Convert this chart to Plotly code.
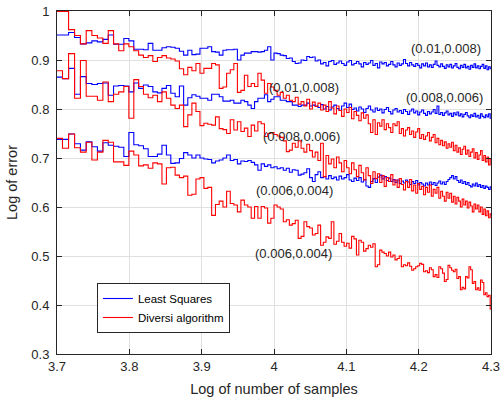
import numpy as np
import plotly.graph_objects as go

# number of samples (x axis is log10 of these)
samples = list(range(5000, 20001, 100))

# Least Squares
ls_a = [
0.951, 0.951, 0.956, 0.946, 0.933, 0.935, 0.939, 0.937, 0.942, 0.951,
0.932, 0.932, 0.944, 0.939, 0.922, 0.922, 0.921, 0.934, 0.920, 0.920,
0.925, 0.927, 0.926, 0.924, 0.918, 0.910, 0.920, 0.911, 0.912, 0.924,
0.924, 0.927, 0.917, 0.916, 0.910, 0.920, 0.921, 0.921, 0.922, 0.900,
0.910, 0.914, 0.914, 0.917, 0.917, 0.916, 0.917, 0.920, 0.927, 0.900,
0.914, 0.913, 0.910, 0.909, 0.903, 0.904, 0.897, 0.893, 0.894, 0.900,
0.899, 0.907, 0.905, 0.906, 0.898, 0.900, 0.892, 0.895, 0.888, 0.897,
0.899, 0.891, 0.894, 0.898, 0.893, 0.889, 0.896, 0.899, 0.890, 0.893,
0.897, 0.892, 0.886, 0.895, 0.891, 0.894, 0.899, 0.889, 0.893, 0.884,
0.896, 0.892, 0.895, 0.888, 0.891, 0.897, 0.890, 0.886, 0.894, 0.889,
0.892, 0.901, 0.893, 0.888, 0.895, 0.890, 0.887, 0.893, 0.889, 0.884,
0.892, 0.888, 0.894, 0.886, 0.890, 0.885, 0.891, 0.898, 0.889, 0.886,
0.892, 0.887, 0.883, 0.890, 0.886, 0.891, 0.884, 0.888, 0.893, 0.885,
0.882, 0.889, 0.885, 0.891, 0.884, 0.887, 0.881, 0.889, 0.885, 0.892,
0.884, 0.888, 0.882, 0.887, 0.891, 0.883, 0.888, 0.880, 0.886, 0.882,
0.884]
ls_b = [
0.865, 0.862, 0.883, 0.830, 0.866, 0.852, 0.850, 0.852, 0.853, 0.828,
0.847, 0.848, 0.847, 0.835, 0.853, 0.842, 0.849, 0.846, 0.835, 0.833,
0.842, 0.848, 0.832, 0.825, 0.847, 0.808, 0.823, 0.829, 0.826, 0.822,
0.822, 0.818, 0.830, 0.830, 0.825, 0.816, 0.816, 0.818, 0.812, 0.812,
0.818, 0.815, 0.808, 0.801, 0.815, 0.822, 0.822, 0.829, 0.815, 0.820,
0.825, 0.825, 0.818, 0.818, 0.815, 0.815, 0.808, 0.808, 0.805, 0.808,
0.808, 0.812, 0.806, 0.808, 0.806, 0.803, 0.809, 0.800, 0.805, 0.798,
0.804, 0.808, 0.801, 0.797, 0.806, 0.812, 0.803, 0.810, 0.799, 0.802,
0.796, 0.804, 0.800, 0.793, 0.801, 0.806, 0.798, 0.794, 0.802, 0.797,
0.800, 0.792, 0.799, 0.803, 0.795, 0.790, 0.798, 0.801, 0.794, 0.797,
0.791, 0.799, 0.795, 0.789, 0.796, 0.800, 0.792, 0.796, 0.788, 0.794,
0.798, 0.791, 0.787, 0.795, 0.790, 0.794, 0.799, 0.791, 0.806, 0.789,
0.793, 0.787, 0.792, 0.796, 0.788, 0.791, 0.785, 0.792, 0.788, 0.794,
0.786, 0.790, 0.784, 0.789, 0.793, 0.786, 0.782, 0.788, 0.785, 0.791,
0.784, 0.787, 0.781, 0.790, 0.785, 0.782, 0.788, 0.784, 0.790, 0.781,
0.784]
ls_c = [
0.738, 0.738, 0.749, 0.729, 0.716, 0.733, 0.723, 0.714, 0.731, 0.726,
0.724, 0.722, 0.703, 0.752, 0.727, 0.725, 0.719, 0.703, 0.703, 0.708,
0.726, 0.706, 0.689, 0.690, 0.699, 0.711, 0.706, 0.700, 0.706, 0.700,
0.698, 0.697, 0.690, 0.694, 0.696, 0.700, 0.706, 0.695, 0.697, 0.688,
0.694, 0.693, 0.695, 0.691, 0.686, 0.675, 0.688, 0.683, 0.686, 0.680,
0.682, 0.678, 0.680, 0.675, 0.679, 0.671, 0.676, 0.675, 0.665, 0.667,
0.670, 0.678, 0.660, 0.652, 0.666, 0.672, 0.660, 0.662, 0.657, 0.664,
0.658, 0.661, 0.655, 0.663, 0.657, 0.660, 0.666, 0.655, 0.652, 0.659,
0.654, 0.660, 0.651, 0.656, 0.643, 0.640, 0.652, 0.658, 0.650, 0.661,
0.665, 0.657, 0.662, 0.654, 0.659, 0.652, 0.656, 0.650, 0.655, 0.648,
0.653, 0.649, 0.655, 0.651, 0.646, 0.652, 0.648, 0.654, 0.645, 0.650,
0.647, 0.643, 0.649, 0.645, 0.651, 0.646, 0.650, 0.644, 0.649, 0.653,
0.647, 0.651, 0.646, 0.652, 0.656, 0.660, 0.664, 0.657, 0.662, 0.654,
0.650, 0.655, 0.648, 0.652, 0.646, 0.650, 0.644, 0.641, 0.647, 0.643,
0.649, 0.642, 0.646, 0.640, 0.644, 0.638, 0.643, 0.640, 0.636, 0.641,
0.638]

# Diversi algorithm
dv_a = [
0.999, 0.999, 0.962, 0.950, 0.933, 0.960, 0.950, 0.945, 0.934, 0.960,
0.933, 0.919, 0.933, 0.927, 0.919, 0.910, 0.905, 0.909, 0.897, 0.905,
0.909, 0.904, 0.902, 0.898, 0.882, 0.870, 0.885, 0.878, 0.893, 0.873,
0.883, 0.883, 0.893, 0.890, 0.842, 0.845, 0.873, 0.880, 0.893, 0.834,
0.838, 0.869, 0.846, 0.852, 0.846, 0.873, 0.859, 0.832, 0.852, 0.845,
0.838, 0.828, 0.834, 0.822, 0.828, 0.818, 0.815, 0.824, 0.810, 0.815,
0.806, 0.820, 0.800, 0.814, 0.805, 0.812, 0.798, 0.808, 0.795, 0.815,
0.802, 0.790, 0.806, 0.797, 0.785, 0.800, 0.793, 0.803, 0.780, 0.795,
0.787, 0.776, 0.792, 0.781, 0.788, 0.770, 0.752, 0.778, 0.748, 0.772,
0.765, 0.778, 0.758, 0.770, 0.762, 0.752, 0.770, 0.766, 0.774, 0.750,
0.760, 0.745, 0.757, 0.762, 0.748, 0.755, 0.742, 0.753, 0.760, 0.740,
0.748, 0.738, 0.745, 0.752, 0.735, 0.742, 0.748, 0.731, 0.740, 0.727,
0.736, 0.725, 0.733, 0.720, 0.729, 0.722, 0.732, 0.715, 0.726, 0.712,
0.721, 0.707, 0.718, 0.724, 0.708, 0.716, 0.703, 0.712, 0.719, 0.700,
0.711, 0.697, 0.706, 0.715, 0.695, 0.705, 0.692, 0.702, 0.686, 0.698,
0.690]
dv_b = [
0.878, 0.862, 0.913, 0.822, 0.899, 0.826, 0.826, 0.818, 0.855, 0.815,
0.830, 0.835, 0.846, 0.781, 0.860, 0.846, 0.830, 0.823, 0.828, 0.815,
0.835, 0.822, 0.808, 0.801, 0.808, 0.764, 0.788, 0.812, 0.795, 0.766,
0.771, 0.769, 0.767, 0.784, 0.760, 0.758, 0.750, 0.778, 0.757, 0.774,
0.754, 0.761, 0.744, 0.767, 0.755, 0.774, 0.770, 0.744, 0.750, 0.752,
0.748, 0.745, 0.742, 0.735, 0.713, 0.716, 0.730, 0.722, 0.735, 0.720,
0.712, 0.728, 0.715, 0.702, 0.712, 0.695, 0.730, 0.662, 0.705, 0.688,
0.698, 0.680, 0.702, 0.690, 0.672, 0.695, 0.680, 0.668, 0.690, 0.676,
0.662, 0.685, 0.670, 0.655, 0.680, 0.664, 0.648, 0.672, 0.658, 0.668,
0.650, 0.664, 0.642, 0.660, 0.652, 0.666, 0.645, 0.655, 0.640, 0.658,
0.646, 0.635, 0.652, 0.640, 0.656, 0.633, 0.645, 0.628, 0.648, 0.636,
0.642, 0.625, 0.640, 0.630, 0.645, 0.622, 0.636, 0.628, 0.640, 0.618,
0.632, 0.622, 0.612, 0.630, 0.618, 0.628, 0.610, 0.622, 0.606, 0.620,
0.612, 0.600, 0.616, 0.604, 0.612, 0.598, 0.610, 0.602, 0.590, 0.606,
0.596, 0.604, 0.590, 0.600, 0.585, 0.596, 0.582, 0.592, 0.578, 0.586,
0.575]
dv_c = [
0.740, 0.720, 0.749, 0.721, 0.712, 0.732, 0.696, 0.712, 0.736, 0.732,
0.692, 0.692, 0.685, 0.714, 0.706, 0.684, 0.686, 0.679, 0.690, 0.688,
0.647, 0.680, 0.681, 0.665, 0.660, 0.663, 0.624, 0.626, 0.657, 0.660,
0.638, 0.640, 0.583, 0.605, 0.612, 0.600, 0.632, 0.607, 0.604, 0.590,
0.614, 0.604, 0.600, 0.577, 0.601, 0.577, 0.601, 0.598, 0.567, 0.577,
0.604, 0.600, 0.596, 0.570, 0.574, 0.563, 0.566, 0.573, 0.536, 0.540,
0.570, 0.560, 0.557, 0.543, 0.546, 0.563, 0.522, 0.528, 0.539, 0.536,
0.570, 0.524, 0.530, 0.546, 0.528, 0.520, 0.526, 0.516, 0.540, 0.535,
0.502, 0.532, 0.528, 0.510, 0.515, 0.522, 0.518, 0.525, 0.478, 0.482,
0.512, 0.508, 0.505, 0.500, 0.508, 0.498, 0.502, 0.492, 0.495, 0.500,
0.478, 0.482, 0.480, 0.486, 0.479, 0.471, 0.474, 0.478, 0.480, 0.485,
0.483, 0.468, 0.470, 0.466, 0.476, 0.472, 0.458, 0.462, 0.456, 0.478,
0.474, 0.465, 0.448, 0.452, 0.481, 0.476, 0.471, 0.468, 0.473, 0.454,
0.458, 0.431, 0.436, 0.433, 0.458, 0.455, 0.478, 0.472, 0.444, 0.448,
0.431, 0.435, 0.430, 0.451, 0.446, 0.421, 0.425, 0.417, 0.420, 0.392,
0.405]

labels = ["(0.01,0.008)", "(0.01,0.008)", "(0.008,0.006)",
          "(0.008,0.006)", "(0.006,0.004)", "(0.006,0.004)"]
x_ticks = [3.7, 3.8, 3.9, 4.0, 4.1, 4.2, 4.3]
x_tick_text = ["3.7", "3.8", "3.9", "4", "4.1", "4.2", "4.3"]
y_ticks = [0.3, 0.4, 0.5, 0.6, 0.7, 0.8, 0.9, 1.0]
y_tick_text = ["0.3", "0.4", "0.5", "0.6", "0.7", "0.8", "0.9", "1"]

for s in (ls_a, ls_b, ls_c, dv_a, dv_b, dv_c):
    assert len(s) == len(samples), (len(s), len(samples))

x = np.log10(np.array(samples, dtype=float))

FONT = "Liberation Sans, Arial, Helvetica, sans-serif"
INK = "#262626"

fig = go.Figure()
series = [
    (ls_a, "Least Squares", "#0000ff", True),
    (ls_b, "Least Squares", "#0000ff", False),
    (ls_c, "Least Squares", "#0000ff", False),
    (dv_a, "Diversi algorithm", "#ff0000", True),
    (dv_b, "Diversi algorithm", "#ff0000", False),
    (dv_c, "Diversi algorithm", "#ff0000", False),
]
for ys, name, col, show in series:
    fig.add_trace(go.Scatter(
        x=x, y=ys, mode="lines", name=name, legendgroup=name,
        showlegend=show, line=dict(color=col, width=1.1, shape="hv"),
    ))

ann_pos = [(4.2376, 0.9245), (4.0409, 0.8429), (4.2362, 0.8245),
           (4.0381, 0.7429), (4.0284, 0.6327), (4.0270, 0.5041)]
for txt, (ax_, ay_) in zip(labels, ann_pos):
    fig.add_annotation(x=ax_, y=ay_, text=txt, showarrow=False,
                       xanchor="center", yanchor="middle",
                       font=dict(family=FONT, size=13, color=INK))

axis_common = dict(
    showgrid=True, gridcolor="#e0e0e0", gridwidth=1,
    showline=True, linecolor=INK, linewidth=1, mirror="ticks",
    ticks="inside", ticklen=5, tickcolor=INK, zeroline=False,
    automargin=False,
    tickfont=dict(family=FONT, size=13, color=INK),
)
fig.update_xaxes(range=[3.7, 4.3], tickvals=x_ticks, ticktext=x_tick_text,
                 title=dict(text="Log of number of samples",
                            font=dict(family=FONT, size=14.5, color=INK),
                            standoff=11),
                 **axis_common)
fig.update_yaxes(range=[0.3, 1.0], tickvals=y_ticks, ticktext=y_tick_text,
                 title=dict(text="Log of error",
                            font=dict(family=FONT, size=14.5, color=INK),
                            standoff=10),
                 ticklabelstandoff=4,
                 **axis_common)

fig.update_layout(
    width=504, height=401,
    margin=dict(l=57, r=13, t=11, b=47, autoexpand=False),
    paper_bgcolor="white", plot_bgcolor="white",
    font=dict(family=FONT, color=INK),
    legend=dict(x=0.092, y=0.207, xanchor="left", yanchor="top",
                bgcolor="white", bordercolor=INK, borderwidth=1,
                font=dict(family=FONT, size=11.5, color="#000000"),
                tracegroupgap=0),
    showlegend=True,
)

fig.write_html("out.html",
               config={"displayModeBar": False},
               post_script="document.body.style.margin='0';"
                           "document.body.style.padding='0';")
